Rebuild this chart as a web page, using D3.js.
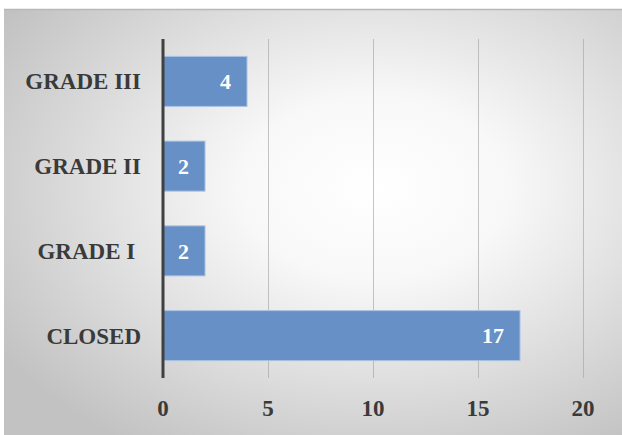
<!DOCTYPE html>
<html><head><meta charset="utf-8">
<script src="https://cdn.jsdelivr.net/npm/d3@7/dist/d3.min.js"></script>
<style>body{margin:0;background:#fff}svg{display:block}</style>
</head><body>
<svg id="c" width="622" height="435"></svg>
<script>
const categories = ["GRADE III", "GRADE II", "GRADE I ", "CLOSED"];
const values = [4, 2, 2, 17];
const tickValues = [0, 5, 10, 15, 20];

const svg = d3.select("#c");
const defs = svg.append("defs");
const g = defs.append("radialGradient").attr("id","bg")
  .attr("cx","60%").attr("cy","42%").attr("r","72%");
g.append("stop").attr("offset","0%").attr("stop-color","#ffffff");
g.append("stop").attr("offset","30%").attr("stop-color","#f8f8f8");
g.append("stop").attr("offset","100%").attr("stop-color","#c2c2c2");

svg.append("rect").attr("x",4).attr("y",9).attr("width",618).attr("height",426)
  .attr("fill","url(#bg)");
svg.append("line").attr("x1",4).attr("x2",622).attr("y1",9.5).attr("y2",9.5)
  .attr("stroke","#b8b8b8").attr("stroke-width",1.5);

const x = d3.scaleLinear().domain([0,20]).range([163,583]);
const y = d3.scaleBand().domain(categories).range([39,378]).paddingInner(0.41).paddingOuter(0.205);

const font = "'Liberation Serif','Times New Roman',serif";

// gridlines
svg.append("g").selectAll("line").data(tickValues.slice(1)).join("line")
  .attr("x1",d=>x(d)+0.5).attr("x2",d=>x(d)+0.5).attr("y1",39).attr("y2",378)
  .attr("stroke","#a6a6a6").attr("stroke-opacity",0.65).attr("stroke-width",1);

// bars
svg.append("g").selectAll("rect").data(values).join("rect")
  .attr("x",x(0)).attr("y",(d,i)=>y(categories[i]))
  .attr("width",d=>x(d)-x(0)).attr("height",y.bandwidth())
  .attr("fill","#6690c6").attr("stroke","#a9c2e4").attr("stroke-width",1);

// axis line
svg.append("line").attr("x1",163).attr("x2",163).attr("y1",39).attr("y2",378)
  .attr("stroke","#404040").attr("stroke-width",3);

// value labels
svg.append("g").selectAll("text").data(values).join("text")
  .attr("x",d=>x(d)-16).attr("y",(d,i)=>y(categories[i])+y.bandwidth()/2)
  .attr("dy","0.35em").attr("text-anchor","end")
  .attr("font-family",font).attr("font-weight","bold")
  .attr("font-size",22).attr("fill","#ffffff").text(d=>d);

// category labels
svg.append("g").selectAll("text").data(categories).join("text")
  .attr("x",141).attr("y",d=>y(d)+y.bandwidth()/2)
  .attr("dy","0.35em").attr("text-anchor","end")
  .style("white-space","pre")
  .attr("font-family",font).attr("font-weight","bold")
  .attr("font-size",23).attr("fill","#3a3a3a").text(d=>d);

// tick labels
svg.append("g").selectAll("text").data(tickValues).join("text")
  .attr("x",d=>x(d)).attr("y",408).attr("dy","0.35em").attr("text-anchor","middle")
  .attr("font-family",font).attr("font-weight","bold")
  .attr("font-size",23).attr("fill","#3a3a3a").text(d=>d);
</script>
</body></html>
